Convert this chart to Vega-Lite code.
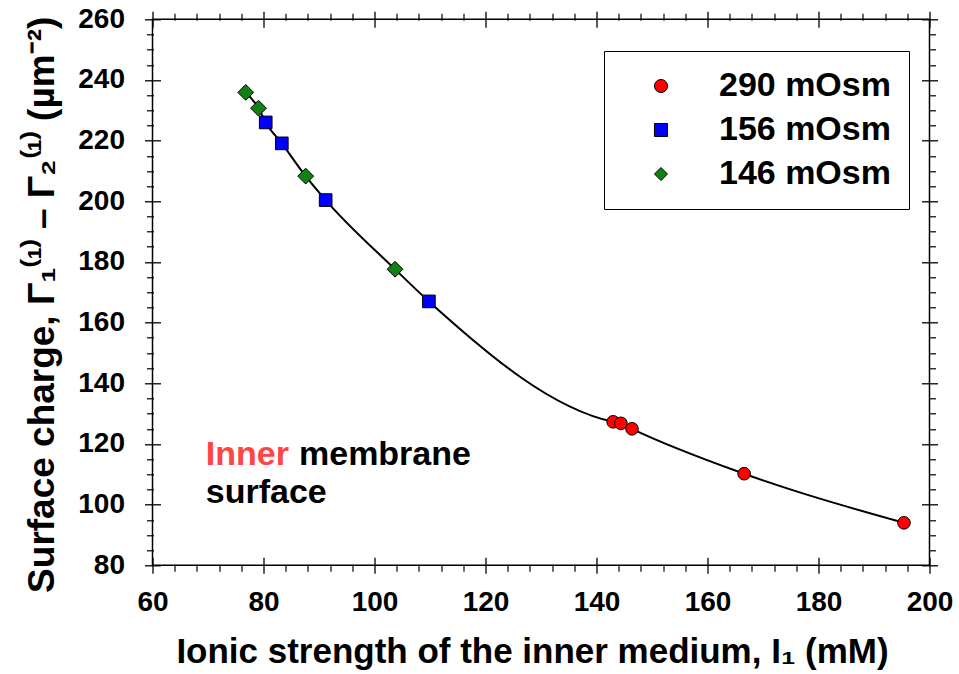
{
  "$schema": "https://vega.github.io/schema/vega-lite/v6.json",
  "width": 777,
  "height": 546,
  "autosize": {"type": "none"},
  "padding": {"left": 152.5, "top": 19.3, "right": 29.3, "bottom": 108.7},
  "config": {
    "font": "Liberation Sans",
    "view": {"stroke": "black", "strokeWidth": 1.5},
    "axis": {
      "grid": false,
      "labelColor": "black",
      "labelFont": "Liberation Sans",
      "labelFontWeight": "bold",
      "labelFontSize": 28,
      "titleFont": "Liberation Sans",
      "titleFontWeight": "bold",
      "titleColor": "black",
      "titleFontSize": 35
    },
    "legend": {
      "title": null,
      "orient": "none",
      "legendX": 451.5,
      "legendY": 31.7,
      "padding": 18,
      "rowPadding": 10,
      "strokeColor": "black",
      "fillColor": "white",
      "labelFont": "Liberation Sans",
      "labelFontWeight": "bold",
      "labelFontSize": 34,
      "labelColor": "black",
      "labelLimit": 400,
      "labelOffset": 41,
      "symbolOffset": 22,
      "symbolSize": 170,
      "symbolStrokeColor": "black",
      "symbolStrokeWidth": 1
    }
  },
  "datasets": {
    "pts": [
      {"series": "290 mOsm", "x": 143.0, "y": 127.3},
      {"series": "290 mOsm", "x": 144.4, "y": 126.8},
      {"series": "290 mOsm", "x": 146.4, "y": 125.0},
      {"series": "290 mOsm", "x": 166.6, "y": 110.2},
      {"series": "290 mOsm", "x": 195.4, "y": 94.0},
      {"series": "156 mOsm", "x": 80.4, "y": 226.0},
      {"series": "156 mOsm", "x": 83.3, "y": 219.1},
      {"series": "156 mOsm", "x": 91.2, "y": 200.4},
      {"series": "156 mOsm", "x": 109.8, "y": 167.0},
      {"series": "146 mOsm", "x": 76.8, "y": 235.9},
      {"series": "146 mOsm", "x": 79.1, "y": 230.7},
      {"series": "146 mOsm", "x": 87.6, "y": 208.3},
      {"series": "146 mOsm", "x": 103.7, "y": 177.6}
    ],
    "notesRed": [
      {"text": "Inner", "x": 69.6, "y": 113.1}
    ],
    "notesBlack": [
      {"text": "membrane", "x": 86.4, "y": 113.1},
      {"text": "surface", "x": 69.6, "y": 100.4}
    ]
  },
  "layer": [
    {
      "data": {"name": "pts"},
      "mark": {"type": "line", "color": "black", "strokeWidth": 2, "interpolate": "monotone"},
      "encoding": {
        "x": {
          "field": "x", "type": "quantitative",
          "scale": {"domain": [60, 200], "nice": false, "zero": false},
          "axis": {
            "orient": "bottom",
            "values": [60, 80, 100, 120, 140, 160, 180, 200],
            "labelFlush": false, "labelOverlap": false,
            "domain": false, "ticks": true, "tickColor": "black", "tickWidth": 1.3, "tickOpacity": 1,
            "tickSize": 16, "offset": -8, "labelPadding": 15,
            "title": "Ionic strength of the inner medium,  I₁ (mM)",
            "titlePadding": 18, "titleX": 379.5
          }
        },
        "y": {
          "field": "y", "type": "quantitative",
          "scale": {"domain": [80, 260], "nice": false, "zero": false},
          "axis": {
            "orient": "left",
            "values": [80, 100, 120, 140, 160, 180, 200, 220, 240, 260],
            "labelFlush": false, "labelOverlap": false,
            "domain": false, "ticks": true, "tickColor": "black", "tickWidth": 1.3, "tickOpacity": 1,
            "tickSize": 16, "offset": -8, "labelPadding": 20,
            "title": "Surface charge,  Γ₁⁽¹⁾ – Γ₂⁽¹⁾  (µm⁻²)",
            "titleFontSize": 37,
            "titlePadding": 16, "titleY": 285
          }
        }
      }
    },
    {
      "data": {"name": "pts"},
      "transform": [{"filter": "datum.series !== '146 mOsm'"}],
      "mark": {"type": "point", "filled": true, "size": 160, "stroke": "black", "strokeWidth": 1, "opacity": 1},
      "encoding": {
        "x": {
          "field": "x", "type": "quantitative",
          "scale": {"domain": [60, 200], "nice": false, "zero": false},
          "axis": {
            "orient": "top",
            "values": [60, 80, 100, 120, 140, 160, 180, 200],
            "domain": false, "ticks": true, "tickColor": "black", "tickWidth": 1.3, "tickOpacity": 1,
            "tickSize": 16, "offset": -8, "labels": false, "title": null
          }
        },
        "y": {
          "field": "y", "type": "quantitative",
          "scale": {"domain": [80, 260], "nice": false, "zero": false},
          "axis": {
            "orient": "right",
            "values": [80, 100, 120, 140, 160, 180, 200, 220, 240, 260],
            "domain": false, "ticks": true, "tickColor": "black", "tickWidth": 1.3, "tickOpacity": 1,
            "tickSize": 16, "offset": -8, "labels": false, "title": null
          }
        },
        "shape": {
          "field": "series", "type": "nominal",
          "scale": {"domain": ["290 mOsm", "156 mOsm", "146 mOsm"], "range": ["circle", "square", "diamond"]},
          "legend": {"title": null}
        },
        "color": {
          "field": "series", "type": "nominal",
          "scale": {"domain": ["290 mOsm", "156 mOsm", "146 mOsm"], "range": ["#ff0000", "#0000ff", "#128012"]},
          "legend": {"title": null}
        }
      }
    },
    {
      "data": {"name": "pts"},
      "transform": [{"filter": "datum.series === '146 mOsm'"}],
      "mark": {"type": "point", "filled": true, "size": 250, "stroke": "black", "strokeWidth": 1, "opacity": 1},
      "encoding": {
        "x": {"field": "x", "type": "quantitative", "scale": {"domain": [60, 200], "nice": false, "zero": false}, "axis": null},
        "y": {"field": "y", "type": "quantitative", "scale": {"domain": [80, 260], "nice": false, "zero": false}, "axis": null},
        "shape": {
          "field": "series", "type": "nominal",
          "scale": {"domain": ["290 mOsm", "156 mOsm", "146 mOsm"], "range": ["circle", "square", "diamond"]},
          "legend": {"title": null}
        },
        "color": {
          "field": "series", "type": "nominal",
          "scale": {"domain": ["290 mOsm", "156 mOsm", "146 mOsm"], "range": ["#ff0000", "#0000ff", "#128012"]},
          "legend": {"title": null}
        }
      }
    },
    {
      "data": {"name": "notesRed"},
      "mark": {"type": "text", "align": "left", "baseline": "alphabetic", "color": "#ff4444", "font": "Liberation Sans", "fontWeight": "bold", "fontSize": 34},
      "encoding": {
        "text": {"field": "text"},
        "x": {
          "field": "x", "type": "quantitative",
          "scale": {"domain": [60, 200], "nice": false, "zero": false},
          "axis": {
            "orient": "bottom",
            "values": [64, 68, 72, 76, 84, 88, 92, 96, 104, 108, 112, 116, 124, 128, 132, 136, 144, 148, 152, 156, 164, 168, 172, 176, 184, 188, 192, 196],
            "domain": false, "ticks": true, "tickColor": "black", "tickWidth": 1.2, "tickOpacity": 1,
            "tickSize": 7, "offset": -1, "labels": false, "title": null
          }
        },
        "y": {
          "field": "y", "type": "quantitative",
          "scale": {"domain": [80, 260], "nice": false, "zero": false},
          "axis": {
            "orient": "left",
            "values": [85, 90, 95, 105, 110, 115, 125, 130, 135, 145, 150, 155, 165, 170, 175, 185, 190, 195, 205, 210, 215, 225, 230, 235, 245, 250, 255],
            "domain": false, "ticks": true, "tickColor": "black", "tickWidth": 1.2, "tickOpacity": 1,
            "tickSize": 7, "offset": -1, "labels": false, "title": null
          }
        }
      }
    },
    {
      "data": {"name": "notesBlack"},
      "mark": {"type": "text", "align": "left", "baseline": "alphabetic", "color": "black", "font": "Liberation Sans", "fontWeight": "bold", "fontSize": 34},
      "encoding": {
        "text": {"field": "text"},
        "x": {
          "field": "x", "type": "quantitative",
          "scale": {"domain": [60, 200], "nice": false, "zero": false},
          "axis": {
            "orient": "top",
            "values": [64, 68, 72, 76, 84, 88, 92, 96, 104, 108, 112, 116, 124, 128, 132, 136, 144, 148, 152, 156, 164, 168, 172, 176, 184, 188, 192, 196],
            "domain": false, "ticks": true, "tickColor": "black", "tickWidth": 1.2, "tickOpacity": 1,
            "tickSize": 7, "offset": -1, "labels": false, "title": null
          }
        },
        "y": {
          "field": "y", "type": "quantitative",
          "scale": {"domain": [80, 260], "nice": false, "zero": false},
          "axis": {
            "orient": "right",
            "values": [85, 90, 95, 105, 110, 115, 125, 130, 135, 145, 150, 155, 165, 170, 175, 185, 190, 195, 205, 210, 215, 225, 230, 235, 245, 250, 255],
            "domain": false, "ticks": true, "tickColor": "black", "tickWidth": 1.2, "tickOpacity": 1,
            "tickSize": 7, "offset": -1, "labels": false, "title": null
          }
        }
      }
    }
  ],
  "resolve": {"axis": {"x": "independent", "y": "independent"}}
}
